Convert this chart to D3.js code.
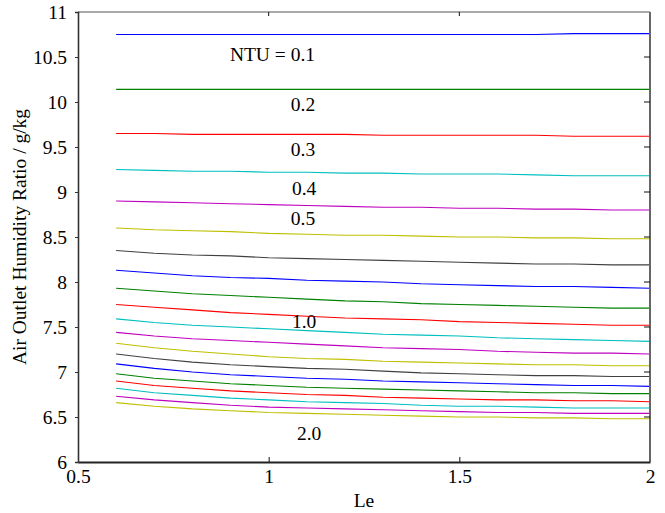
<!DOCTYPE html>
<html>
<head>
<meta charset="utf-8">
<script src="https://cdn.jsdelivr.net/npm/d3@7"></script>
<style>
  html, body { margin: 0; padding: 0; background: #fff; }
  svg { display: block; }
  text { font-family: "Liberation Serif", "Times New Roman", serif; fill: #000; }
</style>
</head>
<body>
<svg id="chart" width="665" height="513"></svg>
<script>
// Lewis number sampled along the x axis
const le = [0.6, 0.7, 0.8, 0.9, 1.0, 1.1, 1.2, 1.3, 1.4, 1.5, 1.6, 1.7, 1.8, 1.9, 2.0];

// NTU value of each curve
const ntu = [0.1, 0.2, 0.3, 0.4, 0.5, 0.6, 0.7, 0.8, 0.9, 1.0,
             1.1, 1.2, 1.3, 1.4, 1.5, 1.6, 1.7, 1.8, 1.9, 2.0];

// Air outlet humidity ratio (g/kg), one row per NTU, one column per Le
const ntu01 = [10.75,10.75,10.75,10.75,10.75,10.75,10.75,10.75,10.75,10.75,10.75,10.75,10.76,10.76,10.76];
const ntu02 = [10.14,10.14,10.14,10.14,10.14,10.14,10.14,10.14,10.14,10.14,10.14,10.14,10.14,10.14,10.14];
const ntu03 = [9.65,9.65,9.64,9.64,9.64,9.64,9.64,9.63,9.63,9.63,9.63,9.63,9.62,9.62,9.62];
const ntu04 = [9.25,9.24,9.23,9.23,9.22,9.22,9.21,9.21,9.20,9.20,9.20,9.19,9.18,9.18,9.18];
const ntu05 = [8.90,8.89,8.88,8.87,8.86,8.85,8.84,8.83,8.83,8.82,8.82,8.81,8.81,8.80,8.80];
const ntu06 = [8.60,8.58,8.57,8.56,8.54,8.53,8.52,8.52,8.51,8.50,8.50,8.49,8.49,8.48,8.48];
const ntu07 = [8.35,8.32,8.30,8.29,8.27,8.26,8.25,8.24,8.23,8.22,8.21,8.20,8.20,8.19,8.19];
const ntu08 = [8.13,8.10,8.07,8.05,8.04,8.02,8.01,8.00,7.98,7.97,7.96,7.95,7.95,7.94,7.93];
const ntu09 = [7.93,7.90,7.87,7.85,7.83,7.81,7.79,7.78,7.76,7.75,7.74,7.73,7.72,7.71,7.71];
const ntu10 = [7.75,7.72,7.69,7.66,7.64,7.62,7.60,7.59,7.58,7.56,7.55,7.54,7.53,7.52,7.52];
const ntu11 = [7.59,7.55,7.52,7.50,7.48,7.46,7.44,7.42,7.41,7.40,7.38,7.37,7.36,7.35,7.34];
const ntu12 = [7.44,7.40,7.37,7.35,7.33,7.31,7.29,7.27,7.26,7.25,7.23,7.22,7.21,7.21,7.20];
const ntu13 = [7.32,7.27,7.23,7.20,7.17,7.15,7.14,7.12,7.11,7.10,7.09,7.08,7.08,7.07,7.07];
const ntu14 = [7.20,7.15,7.11,7.08,7.06,7.04,7.03,7.01,6.99,6.98,6.97,6.96,6.96,6.95,6.95];
const ntu15 = [7.09,7.04,7.00,6.97,6.95,6.93,6.92,6.90,6.89,6.88,6.87,6.86,6.85,6.85,6.84];
const ntu16 = [6.98,6.93,6.90,6.87,6.85,6.83,6.82,6.81,6.80,6.79,6.78,6.77,6.77,6.76,6.76];
const ntu17 = [6.90,6.85,6.82,6.79,6.77,6.75,6.74,6.72,6.71,6.70,6.69,6.69,6.68,6.68,6.67];
const ntu18 = [6.82,6.77,6.74,6.71,6.69,6.67,6.66,6.65,6.63,6.62,6.62,6.61,6.60,6.60,6.60];
const ntu19 = [6.73,6.69,6.66,6.63,6.61,6.60,6.59,6.58,6.57,6.56,6.55,6.55,6.54,6.54,6.54];
const ntu20 = [6.66,6.62,6.59,6.57,6.55,6.54,6.53,6.52,6.51,6.50,6.50,6.49,6.49,6.48,6.48];

const humidity = [ntu01, ntu02, ntu03, ntu04, ntu05, ntu06, ntu07, ntu08, ntu09, ntu10,
                  ntu11, ntu12, ntu13, ntu14, ntu15, ntu16, ntu17, ntu18, ntu19, ntu20];

// Tick values and labels
const xTicks = [0.5, 1, 1.5, 2];
const xTickLabels = ["0.5", "1", "1.5", "2"];
const yTicks = [6, 6.5, 7, 7.5, 8, 8.5, 9, 9.5, 10, 10.5, 11];
const yTickLabels = ["6", "6.5", "7", "7.5", "8", "8.5", "9", "9.5", "10", "10.5", "11"];

// Curve annotations: text and the (Le, humidity) point they sit at
const annotations = [
  { text: "NTU = 0.1", le: 1.01,  w: 10.50 },
  { text: "0.2",       le: 1.09,  w: 9.945 },
  { text: "0.3",       le: 1.09,  w: 9.45 },
  { text: "0.4",       le: 1.093, w: 9.02 },
  { text: "0.5",       le: 1.09,  w: 8.68 },
  { text: "1.0",       le: 1.093, w: 7.54 },
  { text: "2.0",       le: 1.106, w: 6.29 }
];

// Line colour cycle
const palette = ["#0000ff", "#008000", "#ff0000", "#00bfbf", "#bf00bf", "#bfbf00", "#404040"];

const FONT = "'Liberation Serif', 'Times New Roman', serif";
const FS = "19.5px";

const svg = d3.select("#chart");
const margin = { left: 78, right: 15, top: 12, bottom: 51 };
const W = 665, H = 513;

const x = d3.scaleLinear().domain([0.5, 2]).range([margin.left, W - margin.right]);
const y = d3.scaleLinear().domain([6, 11]).range([H - margin.bottom, margin.top]);

const x0 = x.range()[0], x1 = x.range()[1];
const y0 = y.range()[0], y1 = y.range()[1];

// Curves
const line = d3.line()
  .x((d, i) => x(le[i]))
  .y(d => y(d));

svg.append("g")
  .selectAll("path")
  .data(humidity)
  .join("path")
  .attr("d", d => line(d))
  .attr("fill", "none")
  .attr("stroke", (d, i) => palette[i % palette.length])
  .attr("stroke-width", 1.1);

// Frame: top and right edges
svg.append("line").attr("x1", x0).attr("x2", x1).attr("y1", y1).attr("y2", y1)
  .attr("stroke", "#555").attr("stroke-width", 1.2);
svg.append("line").attr("x1", x1).attr("x2", x1).attr("y1", y1).attr("y2", y0)
  .attr("stroke", "#666").attr("stroke-width", 2);

// Mirrored ticks on top (inward) and right (inward)
const innerX = xTicks.filter(t => t > 0.5 && t < 2);
svg.append("g")
  .selectAll("line")
  .data(innerX)
  .join("line")
  .attr("x1", d => x(d)).attr("x2", d => x(d))
  .attr("y1", y1).attr("y2", y1 + 4)
  .attr("stroke", "#111").attr("stroke-width", 1);

svg.append("g")
  .selectAll("line")
  .data(yTicks.filter(t => t > 6 && t < 11))
  .join("line")
  .attr("x1", x1 - 6).attr("x2", x1)
  .attr("y1", d => y(d)).attr("y2", d => y(d))
  .attr("stroke", "#111").attr("stroke-width", 1);

// Bottom axis
const xAxis = d3.axisBottom(x)
  .tickValues(xTicks)
  .tickFormat((d, i) => xTickLabels[i])
  .tickSize(0)
  .tickPadding(7);

const gx = svg.append("g")
  .attr("transform", `translate(0,${y0})`)
  .call(xAxis);
gx.select(".domain").attr("stroke", "#222").attr("stroke-width", 2.2);
gx.selectAll("text")
  .style("font-family", FONT)
  .style("font-size", FS).attr("fill", "#000");
gx.selectAll(".tick")
  .filter(d => d > 0.5 && d < 2)
  .append("line")
  .attr("y1", 0).attr("y2", -5)
  .attr("stroke", "#111").attr("stroke-width", 1);

// Left axis
const yAxis = d3.axisLeft(y)
  .tickValues(yTicks)
  .tickFormat((d, i) => yTickLabels[i])
  .tickSize(3)
  .tickPadding(8);

const gy = svg.append("g")
  .attr("transform", `translate(${x0},0)`)
  .call(yAxis);
gy.select(".domain").attr("stroke", "#333").attr("stroke-width", 1.6);
gy.selectAll(".tick line").attr("stroke", "#333").attr("stroke-width", 1);
gy.selectAll(".tick")
  .filter(d => d === 6 || d === 11)
  .select("line").remove();
gy.selectAll("text")
  .style("font-family", FONT)
  .style("font-size", FS).attr("fill", "#000");

// Axis titles
svg.append("text")
  .attr("x", (x0 + x1) / 2)
  .attr("y", 507)
  .attr("text-anchor", "middle")
  .style("font-size", FS)
  .text("Le");

svg.append("text")
  .attr("transform", `translate(26,${(y0 + y1) / 2}) rotate(-90)`)
  .attr("text-anchor", "middle")
  .style("font-size", FS)
  .text("Air Outlet Humidity Ratio / g/kg");

// Curve annotations
svg.append("g")
  .selectAll("text")
  .data(annotations)
  .join("text")
  .attr("x", d => x(d.le))
  .attr("y", d => y(d.w))
  .attr("text-anchor", "middle")
  .attr("dominant-baseline", "middle")
  .style("font-size", FS)
  .text(d => d.text);
</script>
</body>
</html>
